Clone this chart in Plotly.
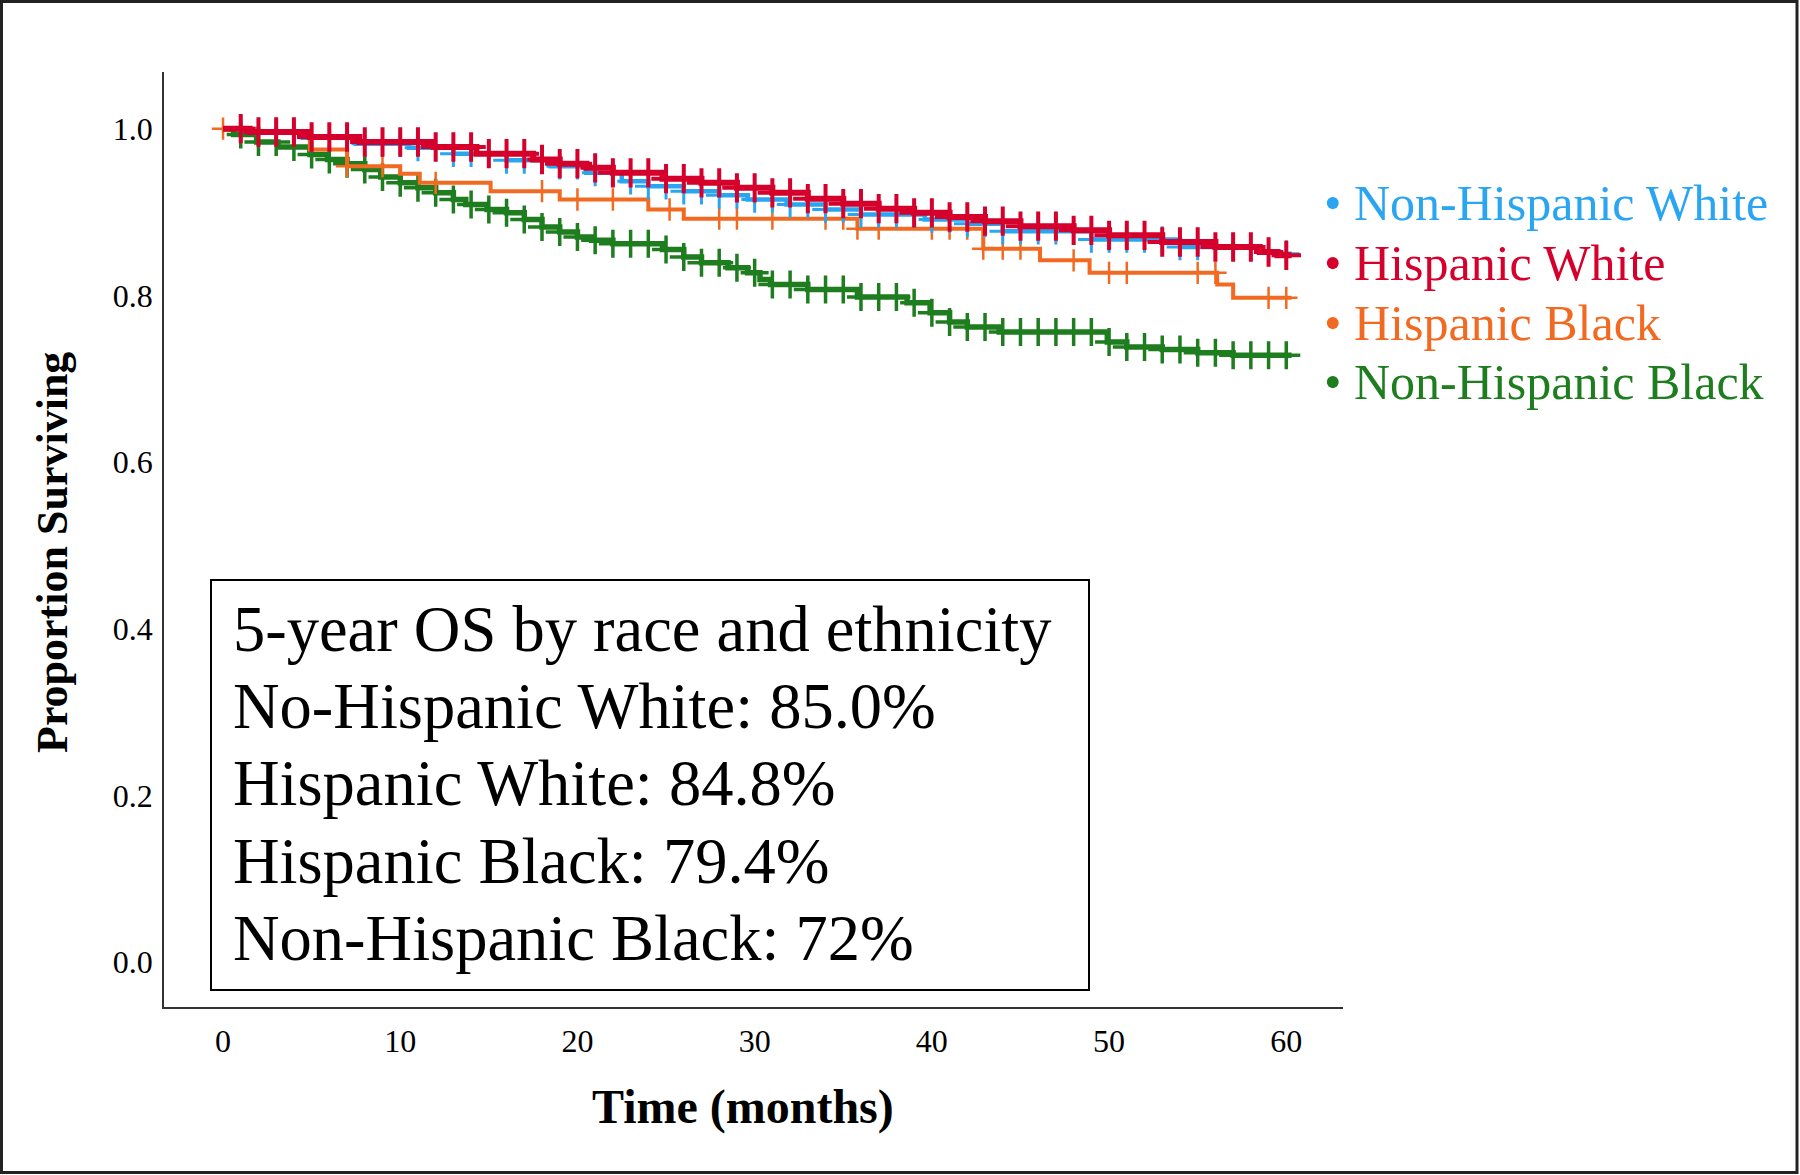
import bisect
import plotly.graph_objects as go

# ---------------- data ----------------
END_T = 60.3

nhw_t = [0, 1.5, 4.5, 7.5, 10.5, 13, 16, 18.5, 20.5, 22.5, 24, 26, 28, 29.6, 31.8, 34, 36, 39.6, 42, 44, 49, 54, 58.5, 59.5]
nhw_s = [1.0, 0.996, 0.989, 0.982, 0.977, 0.970, 0.962, 0.955, 0.947, 0.937, 0.931, 0.925, 0.920, 0.915, 0.909, 0.903, 0.897, 0.891, 0.886, 0.877, 0.867, 0.858, 0.853, 0.850]

hw_t = [0, 1.5, 4.9, 7.7, 11.9, 14.3, 17.5, 19.0, 20.5, 22.0, 24.8, 27.0, 29.0, 31.0, 33.0, 35.0, 37.0, 39.0, 41.0, 43.0, 45.0, 48.0, 50.0, 53.0, 56.0, 58.5, 59.5]
hw_s = [1.0, 0.996, 0.990, 0.984, 0.978, 0.970, 0.963, 0.958, 0.953, 0.947, 0.940, 0.935, 0.929, 0.923, 0.916, 0.910, 0.904, 0.899, 0.894, 0.889, 0.883, 0.878, 0.872, 0.864, 0.858, 0.852, 0.848]

hb_t = [0, 2.0, 4.9, 7.0, 10.0, 11.1, 15.1, 19.0, 24.0, 26.0, 35.8, 42.9, 46.1, 48.9, 56.1, 57.0]
hb_s = [1.0, 0.995, 0.975, 0.955, 0.946, 0.935, 0.925, 0.915, 0.903, 0.892, 0.880, 0.856, 0.842, 0.827, 0.813, 0.797]

nhb_t = [0, 0.6, 1.9, 3.1, 4.9, 5.9, 7.0, 8.0, 8.9, 10.0, 11.0, 12.0, 13.0, 13.7, 14.9, 16.0, 17.0, 18.0, 19.0, 20.0,
         20.8, 22.0, 24.8, 26.0, 27.0, 28.5, 29.6, 30.3, 30.9, 33.0, 35.8, 38.6, 39.9, 41.0, 42.0, 43.8, 49.9, 51.0, 53.0, 55.0, 57.0]
nhb_s = [1.0, 0.993, 0.984, 0.978, 0.969, 0.963, 0.958, 0.951, 0.942, 0.935, 0.929, 0.923, 0.915, 0.909, 0.903, 0.899, 0.891, 0.882, 0.876, 0.870,
         0.866, 0.862, 0.855, 0.846, 0.839, 0.833, 0.827, 0.819, 0.813, 0.807, 0.798, 0.791, 0.779, 0.768, 0.762, 0.756, 0.744, 0.738, 0.735, 0.731, 0.728]

monthly_censor = [1, 2, 3, 4, 5, 6, 7, 8, 9, 10, 11, 12, 13, 14, 15, 16, 17, 18, 19, 20,
                  21, 22, 23, 24, 25, 26, 27, 28, 29, 30, 31, 32, 33, 34, 35, 36, 37, 38, 39, 40,
                  41, 42, 43, 44, 45, 46, 47, 48, 49, 50, 51, 52, 53, 54, 55, 56, 57, 58, 59, 60]
hb_censor = [0, 4, 7, 9, 12, 18, 20, 22, 25.2, 28, 29, 31, 34, 35, 35.8, 37, 40, 41, 42, 42.9, 44, 45, 48, 50, 51, 55, 56, 59, 60]

group_names = ["Non-Hispanic White", "Hispanic White", "Hispanic Black", "Non-Hispanic Black"]
group_colors = ["#2aa5f2", "#d5002b", "#f26a21", "#1e7d1e"]
box_lines = ["5-year OS by race and ethnicity", "No-Hispanic White: 85.0%", "Hispanic White: 84.8%",
             "Hispanic Black: 79.4%", "Non-Hispanic Black: 72%"]
x_ticks = [0, 10, 20, 30, 40, 50, 60]
y_ticks = [0.0, 0.2, 0.4, 0.6, 0.8, 1.0]
y_tick_text = ["0.0", "0.2", "0.4", "0.6", "0.8", "1.0"]

# ---------------- layout helpers ----------------
W, H = 1800, 1175
ML, MR, MT, MB = 164, 457, 72, 168
PW, PH = W - ML - MR, H - MT - MB


def px(xp):
    return (xp - ML) / PW


def py(yp):
    return (H - MB - yp) / PH


def surv_at(times, surv, t):
    i = bisect.bisect_right(times, t) - 1
    return surv[max(i, 0)]


FONT = "Liberation Serif, Times New Roman, serif"

series = [
    (nhb_t, nhb_s, monthly_censor, group_colors[3], 5.5, 20, 3.5),
    (hb_t, hb_s, hb_censor, group_colors[2], 4, 16, 2.5),
    (nhw_t, nhw_s, monthly_censor, group_colors[0], 4.5, 19, 3),
    (hw_t, hw_s, monthly_censor, group_colors[1], 6, 21, 4),
]

fig = go.Figure()
for times, surv, cens, color, lw, msize, mlw in series:
    fig.add_trace(go.Scatter(
        x=times + [END_T], y=surv + [surv[-1]], mode="lines",
        line=dict(color=color, width=lw, shape="hv"),
        showlegend=False, hoverinfo="skip"))
    fig.add_trace(go.Scatter(
        x=cens, y=[surv_at(times, surv, c) for c in cens], mode="markers",
        marker=dict(symbol="cross-thin", size=msize, line=dict(color=color, width=mlw)),
        showlegend=False, hoverinfo="skip"))

annotations = []
# box text
box_centers = [629, 706, 783, 861, 938]
for txt, yc in zip(box_lines, box_centers):
    annotations.append(dict(xref="paper", yref="paper", x=px(231), y=py(yc), xanchor="left", yanchor="middle",
                            text=txt, showarrow=False, font=dict(family=FONT, size=64.5, color="black")))
# legend
leg_centers = [203, 263, 323, 382]
for name, color, yc in zip(group_names, group_colors, leg_centers):
    annotations.append(dict(xref="paper", yref="paper", x=px(1322), y=py(yc), xanchor="left", yanchor="middle",
                            text="\u2022 " + name, showarrow=False, font=dict(family=FONT, size=50, color=color)))
# axis titles
annotations.append(dict(xref="paper", yref="paper", x=px(743), y=py(1107), xanchor="center", yanchor="middle",
                        text="<b>Time (months)</b>", showarrow=False, font=dict(family=FONT, size=48, color="black")))
annotations.append(dict(xref="paper", yref="paper", x=px(52), y=py(553), xanchor="center", yanchor="middle",
                        text="<b>Proportion Surviving</b>", textangle=-90, showarrow=False,
                        font=dict(family=FONT, size=44, color="black")))

shapes = [
    dict(type="rect", xref="paper", yref="paper", x0=px(211), x1=px(1089), y0=py(990), y1=py(580),
         line=dict(color="black", width=2), fillcolor="rgba(0,0,0,0)", layer="above"),
    dict(type="rect", xref="paper", yref="paper", x0=px(1.5), x1=px(1797), y0=py(1172.5), y1=py(1.5),
         line=dict(color="#222", width=3), fillcolor="rgba(0,0,0,0)"),
]

fig.update_layout(
    width=W, height=H, margin=dict(l=ML, r=MR, t=MT, b=MB, pad=0),
    paper_bgcolor="white", plot_bgcolor="white",
    annotations=annotations, shapes=shapes, showlegend=False,
    xaxis=dict(range=[-3.33, 63.2], tickvals=x_ticks, showgrid=False, zeroline=False,
               showline=True, linecolor="#333", linewidth=1.5, ticks="outside", ticklen=5,
               tickcolor="rgba(0,0,0,0)", tickfont=dict(family=FONT, size=32, color="black")),
    yaxis=dict(range=[-0.054, 1.068], tickvals=y_ticks, ticktext=y_tick_text, showgrid=False, zeroline=False,
               showline=True, linecolor="#333", linewidth=1.5, ticks="outside", ticklen=3,
               tickcolor="rgba(0,0,0,0)", tickfont=dict(family=FONT, size=32, color="black")),
)

fig.write_html("out.html", config={"displayModeBar": False},
               post_script="document.body.style.margin='0';")
